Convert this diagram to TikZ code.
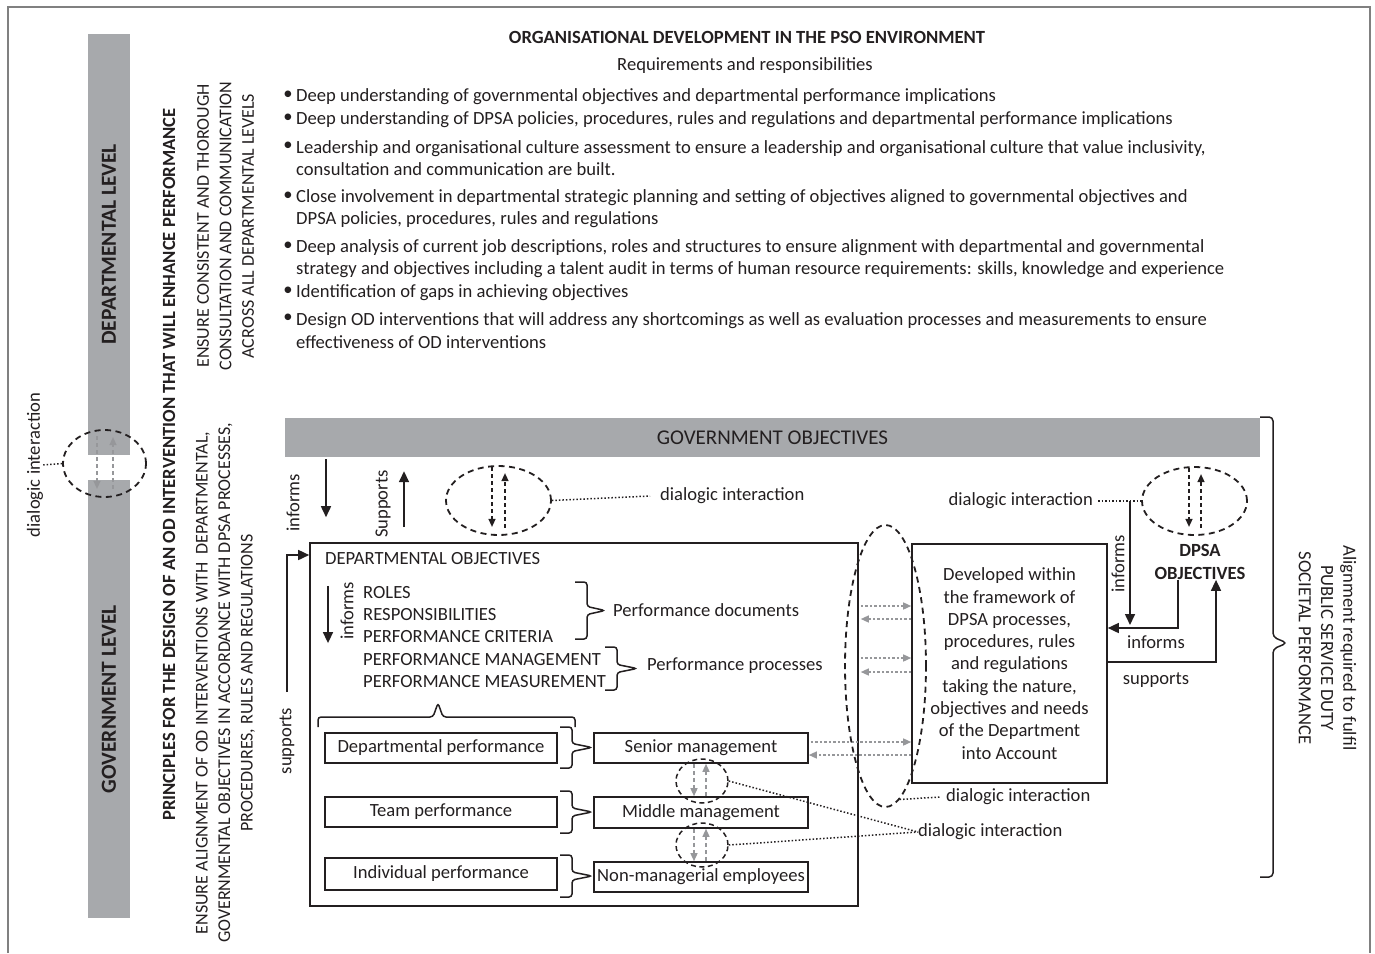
\documentclass[tikz,border=0pt]{standalone}
\usepackage{fontspec}
\setmainfont{Carlito}
\usetikzlibrary{arrows.meta,shapes.geometric}

\definecolor{barra}{RGB}{167,169,172}
\definecolor{grigio}{RGB}{150,151,154}
\definecolor{inchiostro}{RGB}{35,31,32}

\tikzset{
  testo/.style={inner sep=0pt, font=\fontsize{18.6}{22.3}\selectfont},
  grassetto/.style={inner sep=0pt, font=\fontsize{18.6}{23}\selectfont\bfseries},
  maiuscolo/.style={inner sep=0pt, font=\fontsize{18}{22.5}\selectfont},
  riquadro/.style={testo, draw, line width=1.6pt},
  fascia/.style={fill=barra, inner sep=0pt, font=\fontsize{21.5}{24}\selectfont\bfseries},
  ovale/.style={draw, ellipse, line width=1.8pt, dash pattern=on 6pt off 4.5pt, inner sep=0pt},
  ovalino/.style={ovale, line width=1.5pt, dash pattern=on 5pt off 3.5pt},
  freccia/.style={line width=1.6pt, -{Triangle[length=11pt,width=10pt]}},
  tratteggio/.style={line width=1.4pt, dash pattern=on 4pt off 3pt, -{Triangle[length=8pt,width=7pt]}},
  grigia/.style={tratteggio, grigio},
  grigiapunti/.style={grigia, dash pattern=on 2.5pt off 2pt},
  puntini/.style={line width=1.5pt, dash pattern=on 1.5pt off 2pt},
  graffa/.style={line width=1.5pt, rounded corners=3pt},
}

% graffa verticale: x estremi, y alto, y basso, x punta
\newcommand{\graffadx}[4]{%
  \draw[graffa] (#1,#2) -- ({#1+12},#2) -- ({#1+12},{(#2+#3)/2-4})
    -- (#4,{(#2+#3)/2}) -- ({#1+12},{(#2+#3)/2+4}) -- ({#1+12},#3) -- (#1,#3);}

\begin{document}
\begin{tikzpicture}[x=1pt, y=-1pt, color=inchiostro]
\useasboundingbox (0,0) rectangle (1375,953);
%cornice
\draw[line width=1.2pt, gray] (8,953) -- (8,7) -- (1370,7) -- (1370,953);

%livelli
\node[fascia, rotate=90, minimum width=421, minimum height=42] (livdip) at (109,244.5) {DEPARTMENTAL LEVEL};
\node[fascia, rotate=90, minimum width=438, minimum height=42] (livgov) at (109,699) {GOVERNMENT LEVEL};
\node[testo, rotate=90] (dialsx) at (35,465) {dialogic interaction};
\node[ovale, minimum width=83, minimum height=67] (ovsx) at (104.5,463.5) {};
\draw[puntini] (ovsx.west) -- (dialsx.south);
\draw[grigia, shorten <=7pt, shorten >=9pt] ([xshift=-7.5pt]ovsx.north) -- ([xshift=-7.5pt]ovsx.south);
\draw[grigia, shorten <=9pt, shorten >=8pt] ([xshift=8.5pt]ovsx.south) -- ([xshift=8.5pt]ovsx.north);

%colonne ruotate
\node[grassetto, rotate=90] (principi) at (169,464.5) {PRINCIPLES FOR THE DESIGN OF AN OD INTERVENTION THAT WILL ENHANCE PERFORMANCE};
\node[maiuscolo, rotate=90, align=center] (allinea) at (225.5,683) {ENSURE ALIGNMENT OF OD INTERVENTIONS WITH\ \ DEPARTMENTAL,\\GOVERNMENTAL OBJECTIVES IN ACCORDANCE WITH DPSA PROCESSES,\\PROCEDURES, RULES AND REGULATIONS};
\node[maiuscolo, rotate=90, align=center] (consulta) at (225.5,226) {ENSURE CONSISTENT AND THOROUGH\\CONSULTATION AND COMMUNICATION\\ACROSS ALL DEPARTMENTAL LEVELS};

%intestazione
\node[grassetto] (titolo) at (747,37.5) {ORGANISATIONAL DEVELOPMENT IN THE PSO ENVIRONMENT};
\node[testo] (sottotitolo) at (745,66) {Requirements and responsibilities};

%elenco
\foreach \y [count=\i] in {95,118,146,196,246,291,318}
  \node[testo] (p\i) at (288,\y) {\textbullet};
\node[testo, anchor=west] (v1) at (296,96.5) {Deep understanding of governmental objectives and departmental performance implications};
\node[testo, anchor=west] (v2) at (296,119.5) {Deep understanding of DPSA policies, procedures, rules and regulations and departmental performance implications};
\node[testo, anchor=west, align=left] (v3) at (296,158) {Leadership and organisational culture assessment to ensure a leadership and organisational culture that value inclusivity,\\consultation and communication are built.};
\node[testo, anchor=west, align=left] (v4) at (296,208.5) {Close involvement in departmental strategic planning and setting of objectives aligned to governmental objectives and\\DPSA policies, procedures, rules and regulations};
\node[testo, anchor=west, align=left] (v5) at (296,258.5) {Deep analysis of current job descriptions, roles and structures to ensure alignment with departmental and governmental\\strategy and objectives including a talent audit in terms of human resource requirements: skills, knowledge and experience};
\node[testo, anchor=west] (v6) at (296,292.5) {Identification of gaps in achieving objectives};
\node[testo, anchor=west, align=left] (v7) at (296,330.5) {Design OD interventions that will address any shortcomings as well as evaluation processes and measurements to ensure\\effectiveness of OD interventions};

%obiettivi governativi
\node[fascia, minimum width=975, minimum height=39, font=\fontsize{21}{24}\selectfont] (gov) at (772.5,437.5) {GOVERNMENT OBJECTIVES};
\draw[graffa, rounded corners=4pt] (1260,417) -- (1273,417) -- (1273,637) -- (1287,643) -- (1273,649) -- (1273,877) -- (1260,877);
\node[testo, rotate=-90, align=center] (allineam) at (1327.5,648) {Alignment required to fulfil\\PUBLIC SERVICE DUTY\\SOCIETAL PERFORMANCE};

%obiettivi dipartimentali
\node[riquadro, minimum width=548, minimum height=363] (deptbox) at (584,724.5) {};
\node[testo, anchor=west] (obdip) at (325,558.5) {DEPARTMENTAL OBJECTIVES};
\node[testo, anchor=west, align=left] (ruoli) at (363,614.5) {ROLES\\RESPONSIBILITIES\\PERFORMANCE CRITERIA};
\node[testo, anchor=west, align=left] (gestione) at (363,670.5) {PERFORMANCE MANAGEMENT\\PERFORMANCE MEASUREMENT};
\node[testo, anchor=west] (docs) at (613,610.5) {Performance documents};
\node[testo, anchor=west] (processi) at (647,665.5) {Performance processes};
\graffadx{575}{582}{639}{605}
\graffadx{605}{647}{690}{637}
\draw[graffa] (318,727) -- (318,717) -- (433,717) -- (438,703) -- (443,717) -- (575,717) -- (575,727);

\coordinate (inf3) at (328,0);
\draw[freccia] (ruoli.north -| inf3) -- (ruoli.south -| inf3);
\node[testo, rotate=90] (inf3lab) at (347,611) {informs};

%interazioni tra livelli
\node[ovalino, minimum width=52, minimum height=44] (ovsm1) at (702,781) {};
\node[ovalino, minimum width=52, minimum height=44] (ovsm2) at (702,845) {};

%livelli di prestazione
\node[riquadro, minimum width=232, minimum height=30] (dipperf) at (441,748) {Departmental performance};
\node[riquadro, minimum width=232, minimum height=30] (teamperf) at (441,812) {Team performance};
\node[riquadro, minimum width=232, minimum height=32] (indperf) at (441,874) {Individual performance};
\node[riquadro, minimum width=214, minimum height=30] (senior) at (701,748) {Senior management};
\node[riquadro, minimum width=214, minimum height=31] (middle) at (701,812.5) {Middle management};
\node[riquadro, minimum width=214, minimum height=30] (nonman) at (701,877) {Non-managerial employees};
\graffadx{560}{727}{768}{592}
\graffadx{560}{791}{833}{592}
\graffadx{560}{855}{897}{592}

\draw[grigia] ([xshift=-7pt]senior.south) -- ([xshift=-7pt]middle.north);
\draw[grigia] ([xshift=5pt]middle.north) -- ([xshift=5pt]senior.south);
\draw[grigia] ([xshift=-7pt]middle.south) -- ([xshift=-7pt]nonman.north);
\draw[grigia] ([xshift=5pt]nonman.north) -- ([xshift=5pt]middle.south);
\node[testo, anchor=west] (dialsm) at (918,832) {dialogic interaction};
\draw[puntini] (ovsm1.east) -- (dialsm.west);
\draw[puntini] (ovsm2.east) -- (dialsm.west);

%frecce verso il governo
\coordinate (inf1) at (326,0);
\coordinate (sup1) at (404,0);
\draw[freccia, shorten <=2pt, shorten >=25pt] (gov.south -| inf1) -- (deptbox.north -| inf1);
\draw[freccia, shorten <=15pt, shorten >=14pt] (deptbox.north -| sup1) -- (gov.south -| sup1);
\node[testo, rotate=90] (inf1lab) at (293,503) {informs};
\node[testo, rotate=90] (sup1lab) at (383,504) {Supports};
\node[ovale, minimum width=105, minimum height=69] (ovtop) at (498.5,500.5) {};
\draw[tratteggio, shorten <=2pt, shorten >=9pt] ([xshift=-6.5pt]ovtop.north) -- ([xshift=-6.5pt]ovtop.south);
\draw[tratteggio, shorten <=8pt, shorten >=8pt] ([xshift=6.5pt]ovtop.south) -- ([xshift=6.5pt]ovtop.north);
\node[testo, anchor=west] (dialtop) at (660,496) {dialogic interaction};
\draw[puntini] (ovtop.east) -- ([xshift=-10pt]dialtop.west);

\coordinate (sost) at (287,692);
\coordinate (sostang) at (287,555);
\draw[freccia] (sost) -- (sostang) -- (sostang -| deptbox.west);
\node[testo, rotate=90] (sostlab) at (287,741) {supports};

%quadro DPSA
\node[riquadro, minimum width=195, minimum height=239, align=center] (quadro) at (1009.5,663.5) {Developed within\\the framework of\\DPSA processes,\\procedures, rules\\and regulations\\taking the nature,\\objectives and needs\\of the Department\\into Account};
\foreach \y in {606,658}
  \draw[grigiapunti, shorten <=2pt] (deptbox.east |- 0,\y) -- (quadro.west |- 0,\y);
\foreach \y in {619,672}
  \draw[grigiapunti, shorten >=2pt] (quadro.west |- 0,\y) -- (deptbox.east |- 0,\y);
\draw[grigiapunti, shorten <=2pt] (senior.east |- 0,742) -- (quadro.west |- 0,742);
\draw[grigiapunti] (quadro.west |- 0,755) -- (senior.east |- 0,755);
\node[ovale, minimum width=81, minimum height=282] (ovgr) at (885.5,666) {};
\node[testo, anchor=west] (dialgr) at (946,797) {dialogic interaction};
\draw[puntini] (ovgr.-84) -- ([xshift=-6pt]dialgr.west);

%obiettivi DPSA
\node[grassetto, align=center] (dpsa) at (1200,562) {DPSA\\OBJECTIVES};
\node[ovale, minimum width=105, minimum height=68] (ovdpsa) at (1194.5,501) {};
\draw[tratteggio, shorten <=2pt, shorten >=9pt] ([xshift=-5.5pt]ovdpsa.north) -- ([xshift=-5.5pt]ovdpsa.south);
\draw[tratteggio, shorten <=8pt, shorten >=8pt] ([xshift=6.5pt]ovdpsa.south) -- ([xshift=6.5pt]ovdpsa.north);
\node[testo, anchor=east] (dialdpsa) at (1093,501) {dialogic interaction};
\draw[puntini] ([xshift=5pt]dialdpsa.east) -- (ovdpsa.west);

\coordinate (infd) at (1130,501);
\coordinate (angolo) at (1178,628);
\coordinate (sostd) at (1216,662);
\draw[freccia, shorten >=3pt] (infd) -- (infd |- angolo);
\draw[freccia] (dpsa.south -| angolo) -- (angolo) -- (angolo -| quadro.east);
\draw[freccia] (sostd -| quadro.east) -- (sostd) -- (sostd |- dpsa.south);
\node[testo, rotate=90] (infdlab) at (1118,564) {informs};
\node[testo] (infdlab2) at (1156,642) {informs};
\node[testo] (sostdlab) at (1156,680) {supports};
\end{tikzpicture}
\end{document}
